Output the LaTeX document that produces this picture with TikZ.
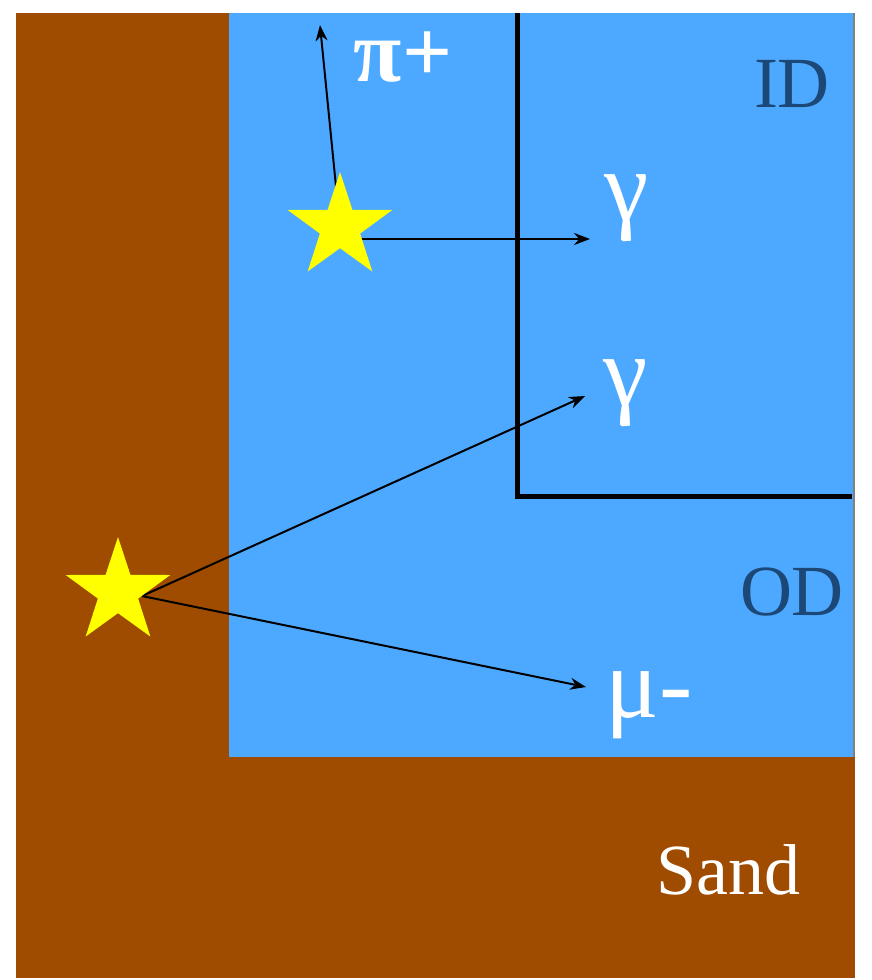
\documentclass[tikz,border=0pt]{standalone}
\usepackage{fontspec}
\setmainfont{Liberation Serif}
\usetikzlibrary{shapes.geometric,arrows.meta}
\definecolor{sand}{RGB}{160,76,0}
\definecolor{water}{RGB}{77,169,255}
\definecolor{idblue}{RGB}{28,72,120}
\definecolor{spark}{RGB}{255,255,0}
\tikzset{
  track/.style={line width=2pt, -{Stealth[length=16pt,width=12pt]}},
  vertex/.style={star, star points=5, star point ratio=2.6, fill=spark, minimum size=110pt, inner sep=0pt},
  particle/.style={text=white, font=\fontsize{100}{100}\selectfont, inner sep=0pt},
  region/.style={text=idblue, font=\fontsize{72}{72}\selectfont, inner sep=0pt},
}

\begin{document}
\begin{tikzpicture}[x=1pt, y=-1pt]
  \useasboundingbox (0,0) rectangle (872,980);
  % sand and water tank
  \fill[sand] (16,13) rectangle (855,978);
  \fill[water] (229,13) rectangle (855,757);
  \draw[gray, line width=2pt] (854,13) -- (854,757);
  % wall between inner and outer detector
  \draw[line width=5pt] (517,13) -- (517,496) -- (852,496);

  % labels
  \node[region] (id) at (792,84) {ID};
  \node[region] (od) at (792,592) {OD};
  \node[region, text=white] (sandlbl) at (728,870) {Sand};
  \node[particle, font=\fontsize{88}{88}\selectfont\bfseries] (pi) at (403,57) {π+};
  \node[particle] (gam1) at (627,208) {γ};
  \node[particle] (gam2) at (626,393) {γ};
  \node[particle] (mu) at (649,705) {μ-};

  % interaction points and tracks
  \coordinate (v1) at (340,227);
  \coordinate (v2) at (142,596);
  \coordinate (pitip) at (320,25);
  \coordinate (g1tip) at (590,239);
  \coordinate (g2tip) at (585,396);
  \coordinate (mutip) at (586,687);
  \draw[track] (v1) -- (pitip);
  \draw[track] (v1 |- g1tip) -- (g1tip);
  \draw[track] (v2) -- (g2tip);
  \draw[track] (v2) -- (mutip);
  \node[vertex] (star1) at (v1) {};
  \node[vertex] (star2) at (118,592) {};
\end{tikzpicture}
\end{document}
